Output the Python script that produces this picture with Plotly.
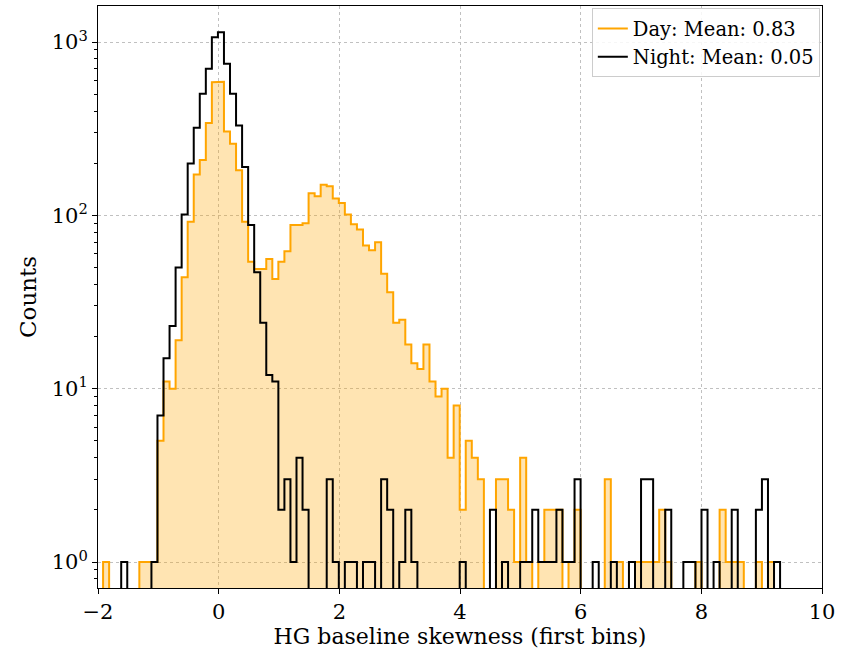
import numpy as np
import plotly.graph_objects as go

# ---- data -------------------------------------------------------------
BIN_LO, BIN_HI, N_BINS = -1.916, 9.305, 112

day_counts = [1, 0, 0, 0, 0, 0, 1, 1, 1, 5, 11, 10, 19, 44, 92, 172, 209, 341, 587, 590,
              305, 259, 182, 92, 54, 49, 49, 56, 43, 54, 62, 88, 88, 90, 134, 129, 150, 147, 125, 118,
              101, 89, 83, 67, 63, 70, 46, 36, 24, 25, 18, 14, 13, 18, 11, 9, 10, 4, 8, 2,
              5, 4, 3, 0, 0, 3, 3, 2, 1, 4, 1, 0, 1, 2, 2, 2, 0, 1, 2, 0,
              0, 0, 0, 3, 1, 1, 0, 0, 1, 1, 1, 1, 2, 1, 0, 0, 0, 0, 1, 0,
              0, 0, 2, 1, 1, 1, 0, 0, 1, 0, 1, 0]

night_counts = [0, 0, 0, 1, 0, 0, 0, 0, 1, 7, 15, 23, 50, 101, 199, 320, 503, 701, 1066, 1140,
                749, 503, 330, 190, 88, 47, 24, 12, 11, 2, 3, 1, 4, 2, 0, 0, 0, 3, 1, 0,
                1, 1, 0, 1, 1, 0, 3, 2, 0, 1, 2, 1, 0, 0, 0, 0, 0, 0, 0, 1,
                0, 0, 0, 0, 2, 0, 1, 0, 0, 1, 1, 2, 1, 1, 1, 2, 1, 1, 3, 0,
                0, 1, 0, 0, 1, 0, 0, 1, 0, 3, 3, 0, 0, 2, 0, 0, 1, 1, 0, 2,
                0, 1, 0, 0, 2, 0, 0, 0, 2, 3, 0, 1]

day_label = "Day: Mean: 0.83"
night_label = "Night: Mean: 0.05"

x_ticks = [-2, 0, 2, 4, 6, 8, 10]
x_ticktext = ["\u22122", "0", "2", "4", "6", "8", "10"]
y_ticks = [1, 10, 100, 1000]
y_ticktext = ["10<sup>0</sup>", "10<sup>1</sup>", "10<sup>2</sup>", "10<sup>3</sup>"]

# ---- helpers ----------------------------------------------------------
edges = np.linspace(BIN_LO, BIN_HI, N_BINS + 1)
FLOOR = 1e-3


def step_xy(counts):
    c = np.asarray(counts, dtype=float)
    c = np.where(c <= 0, FLOOR, c)
    xs = np.concatenate([[edges[0]], np.repeat(edges, 2)[1:-1], [edges[-1]]])
    ys = np.concatenate([[FLOOR], np.repeat(c, 2), [FLOOR]])
    return xs, ys


dx, dy = step_xy(day_counts)
nx, ny = step_xy(night_counts)

ORANGE = "#FFA500"
FONT = "DejaVu Serif"

fig = go.Figure()
fig.add_trace(go.Scatter(x=dx, y=dy, mode="lines", fill="toself",
                         fillcolor="rgba(255,165,0,0.3)", line=dict(width=0),
                         showlegend=False, hoverinfo="skip"))
fig.add_trace(go.Scatter(x=dx, y=dy, mode="lines", name=day_label,
                         line=dict(color=ORANGE, width=2)))
fig.add_trace(go.Scatter(x=nx, y=ny, mode="lines", name=night_label,
                         line=dict(color="black", width=2)))

minor_vals = [m * 10 ** k for k in range(-1, 4) for m in range(2, 10)]

fig.update_layout(
    width=848, height=656,
    margin=dict(l=98, r=26, t=6, b=68),
    paper_bgcolor="white", plot_bgcolor="white",
    font=dict(family=FONT, size=21, color="black"),
    legend=dict(x=0.997, y=0.996, xanchor="right", yanchor="top",
                bgcolor="rgba(255,255,255,0.85)", bordercolor="#cccccc", borderwidth=1,
                font=dict(family=FONT, size=19.5), itemwidth=30, tracegroupgap=0),
    showlegend=True,
)
fig.update_xaxes(
    range=[-2, 10], tickvals=x_ticks, ticktext=x_ticktext,
    ticks="outside", ticklen=5, tickwidth=1, tickcolor="black",
    showline=True, linecolor="black", linewidth=1, mirror=True,
    showgrid=True, gridcolor="#c0c0c0", griddash="dot", gridwidth=1,
    zeroline=False,
    title=dict(text="HG baseline skewness (first bins)", font=dict(size=22), standoff=4),
    tickfont=dict(size=21),
)
fig.update_yaxes(
    type="log", range=[-0.150, 3.208], tickvals=y_ticks, ticktext=y_ticktext,
    ticks="outside", ticklen=5, tickwidth=1, tickcolor="black",
    minor=dict(tickvals=minor_vals, ticks="outside", ticklen=3, tickcolor="black", showgrid=False),
    showline=True, linecolor="black", linewidth=1, mirror=True,
    showgrid=True, gridcolor="#c0c0c0", griddash="dot", gridwidth=1,
    zeroline=False,
    title=dict(text="Counts", font=dict(size=23), standoff=8),
    tickfont=dict(size=21),
)

fig.write_html("out.html")
